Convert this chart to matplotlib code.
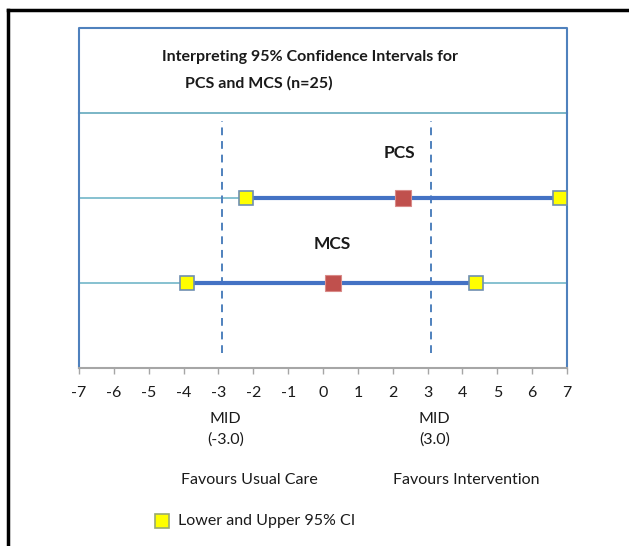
import matplotlib
matplotlib.use("Agg")
import matplotlib.pyplot as plt

plt.rcParams['font.family'] = ['Lato', 'DejaVu Sans']

# data
outcomes = ["PCS", "MCS"]
rows = [2, 1]
means = [2.3, 0.3]
lower_ci = [-2.2, -3.9]
upper_ci = [6.8, 4.4]
mid_lines = [-2.9, 3.1]
mid_labels = ["MID\n(-3.0)", "MID\n(3.0)"]
ticks = list(range(-7, 8))

W, H = 629, 546
fig = plt.figure(figsize=(W / 100, H / 100), dpi=100)

def fx(px):
    return px / W

def fy(py):
    return 1 - py / H

# black frame (only top and left edges show)
fig.add_artist(plt.Line2D([fx(8), 1], [fy(10), fy(10)], color="black", lw=2.5))
fig.add_artist(plt.Line2D([fx(8), fx(8)], [fy(10), 0], color="black", lw=2.5))

# title box: blue top and sides, the bottom is the plot's top grid line
blue = "#4f81bd"
fig.add_artist(plt.Line2D([fx(79), fx(79), fx(567), fx(567)],
                          [fy(113), fy(28), fy(28), fy(113)], color=blue, lw=1.5))
txt = "#1a1a1a"
fig.text(fx(162), fy(57), "Interpreting 95% Confidence Intervals for",
         fontsize=11.5, fontweight="bold", va="center", ha="left", color=txt)
fig.text(fx(185), fy(83), "PCS and MCS (n=25)",
         fontsize=11.5, fontweight="bold", va="center", ha="left", color=txt)

ax = fig.add_axes([fx(79), fy(368), fx(567) - fx(79), fy(113) - fy(368)])
ax.set_xlim(-7, 7)
ax.set_ylim(0, 3)

grid_col = "#72b6c8"
for y in [1, 2]:
    ax.axhline(y, color=grid_col, lw=1.2, zorder=1)
ax.axhline(3, color="#6fb0c2", lw=1.3, zorder=1, clip_on=False)

for x in mid_lines:
    ax.plot([x, x], [0.18, 2.9], color=blue, lw=1.4, ls=(0, (4, 3)), zorder=2)

for name, y, m, lo, hi in zip(outcomes, rows, means, lower_ci, upper_ci):
    ax.plot([lo, hi], [y, y], color="#4472c4", lw=3, zorder=3, solid_capstyle="butt")
    ax.plot([lo, hi], [y, y], ls="none", marker="s", markersize=10,
            markerfacecolor="#ffff00", markeredgecolor="#6f8fb0", markeredgewidth=1.2,
            zorder=5, clip_on=False)
    ax.plot([m], [y], ls="none", marker="s", markersize=11,
            markerfacecolor="#c0504d", markeredgecolor="#d98a88", markeredgewidth=0.8,
            zorder=5)

ax.text(2.2, 2.53, "PCS", fontsize=12.5, fontweight="bold", ha="center",
        va="center", color=txt)
ax.text(0.27, 1.46, "MCS", fontsize=12.5, fontweight="bold", ha="center",
        va="center", color=txt)

ax.spines["top"].set_visible(False)
ax.spines["left"].set_color(blue)
ax.spines["right"].set_color(blue)
ax.spines["left"].set_linewidth(1.5)
ax.spines["right"].set_linewidth(1.5)
ax.spines["bottom"].set_color("#a6a6a6")
ax.spines["bottom"].set_linewidth(1.5)

ax.set_yticks([])
ax.set_xticks(ticks)
ax.set_xticklabels([str(t) for t in ticks])
ax.tick_params(axis="x", direction="out", length=4, color="#a6a6a6", width=1,
               labelsize=11.5, pad=9, labelcolor=txt)

for x, lab in zip(mid_lines, mid_labels):
    ax.annotate(lab, xy=(x + 0.1, 0), xycoords="data", xytext=(0, -44),
                textcoords="offset pixels", ha="center", va="top",
                fontsize=11.5, linespacing=1.55, color=txt)

fig.text(fx(249), fy(480), "Favours Usual Care", fontsize=11.5, ha="center",
         va="center", color=txt)
fig.text(fx(466), fy(480), "Favours Intervention", fontsize=11.5, ha="center",
         va="center", color=txt)

# legend
fig.add_artist(plt.Rectangle((fx(155), fy(528)), fx(14), fy(0) - fy(14),
                             facecolor="#ffff00", edgecolor="#9aaa70", lw=1.2))
fig.text(fx(178), fy(521), "Lower and Upper 95% CI", fontsize=11.5, ha="left",
         va="center", color=txt)

fig.savefig("out.png", dpi=100)
